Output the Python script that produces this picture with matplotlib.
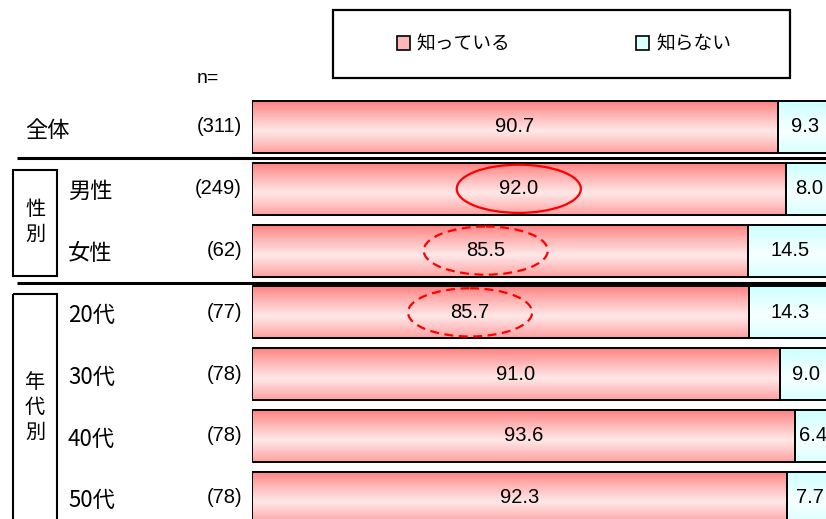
import matplotlib
matplotlib.use('Agg')
import numpy as np
import matplotlib.pyplot as plt
from matplotlib.patches import Rectangle, Ellipse, Patch
from matplotlib.transforms import blended_transform_factory

plt.rcParams['font.family'] = ['Liberation Sans', 'Noto Sans CJK JP']

categories = ['全体', '男性', '女性', '20代', '30代', '40代', '50代']
n_counts = ['(311)', '(249)', '(62)', '(77)', '(78)', '(78)', '(78)']
know = [90.7, 92.0, 85.5, 85.7, 91.0, 93.6, 92.3]
not_know = [9.3, 8.0, 14.5, 14.3, 9.0, 6.4, 7.7]
series = ['知っている', '知らない']
groups = [('性別', 1, 2), ('年代別', 3, 6)]

W, H = 826, 519
fig = plt.figure(figsize=(W / 100, H / 100), dpi=100)
ax = fig.add_axes([252 / W, 0, 1 - 252 / W, 1])
ax.axis('off')
trans = blended_transform_factory(fig.transFigure, ax.transData)


def gradient(dark, light, n=80):
    t = np.linspace(0, 1, n)
    f = np.clip(1 - np.abs(t - 0.58) / 0.58, 0, 1) ** 0.9
    dark = np.array(dark)
    light = np.array(light)
    img = dark[None, :] + (light - dark)[None, :] * f[:, None]
    return img[:, None, :]


pink = gradient((1.0, 0.50, 0.50), (1.0, 0.91, 0.91))
cyan = gradient((0.80, 1.0, 1.0), (0.97, 1.0, 1.0))

bh = 0.84
y = np.arange(len(categories))
for i in y:
    x0 = 0
    for val, img in ((know[i], pink), (not_know[i], cyan)):
        ax.imshow(img, extent=(x0, x0 + val, i + bh / 2, i - bh / 2),
                  aspect='auto', interpolation='bicubic', zorder=1)
        x0 += val
ax.barh(y, know, height=bh, fill=False, edgecolor='black', lw=1.4, zorder=2)
ax.barh(y, not_know, left=know, height=bh, fill=False, edgecolor='black',
        lw=1.4, zorder=2)

# value labels; a couple were shifted left to sit inside the ovals
moved = {2: 40.3, 3: 37.6}
for i in y:
    ax.text(moved.get(i, know[i] / 2), i, f'{know[i]:.1f}', ha='center',
            va='center', fontsize=14.5, zorder=3)
    ax.text(know[i] + not_know[i] / 2, i, f'{not_know[i]:.1f}', ha='center',
            va='center', fontsize=14.5, zorder=3)

# red ovals around the highlighted values
for i, ls in ((1, '-'), (2, (0, (4, 2.5))), (3, (0, (4, 2.5)))):
    cx = moved.get(i, know[i] / 2)
    ax.add_patch(Ellipse((cx, i), 21.4, 0.78, fill=False, edgecolor='#ff0000',
                         lw=1.6, ls=ls, zorder=4))

# row labels and sample sizes
for i in y:
    lx = 25 if i == 0 else 68
    ax.text(lx / W, i + 0.05, categories[i], transform=trans, ha='left',
            va='center', fontsize=16, family=['Noto Sans CJK JP'])
    ax.text(242 / W, i, n_counts[i], transform=trans, ha='right',
            va='center', fontsize=14.5)
ax.text(197 / W, -0.79, 'n=', transform=trans, ha='left', va='center',
        fontsize=14)

# separators between blocks
for sy in (0.5, 2.52):
    ax.plot([17 / W, 1], [sy, sy], transform=trans, color='black', lw=2.2,
            clip_on=False, solid_capstyle='butt')

# group boxes with vertical captions
for name, first, last in groups:
    top = first - 0.30
    bottom = last + 0.41 if last < len(categories) - 1 else last + 1.0
    ax.add_patch(Rectangle((13 / W, top), 44 / W, bottom - top,
                           transform=trans, fill=False, edgecolor='black',
                           lw=1.5, clip_on=False))
    mid = (first + last) / 2 + 0.04
    step = 0.405
    start = mid - step * (len(name) - 1) / 2
    for k, ch in enumerate(name):
        ax.text(35 / W, start + k * step, ch, transform=trans, ha='center',
                va='center', fontsize=14.5, family=['Noto Sans CJK JP'])

# legend
fig.add_artist(Rectangle((333 / W, 1 - 78 / H), 457 / W, 68 / H,
                         transform=fig.transFigure, fill=False,
                         edgecolor='black', lw=1.6))
handles = [Patch(facecolor='#ffb8b8', edgecolor='black', lw=1.2),
           Patch(facecolor='#dcffff', edgecolor='black', lw=1.2)]
fig.legend(handles, series, loc='center', ncol=2, frameon=False,
           bbox_to_anchor=(564 / W, 1 - 44 / H),
           handlelength=0.7, handleheight=0.7, handletextpad=0.35,
           columnspacing=6.7, prop={'family': ['Noto Sans CJK JP'], 'size': 13.5})

ax.set_xlim(0, (W - 252) / 5.8)
ax.set_ylim((H - 127) / 61.8, -127 / 61.8)

fig.savefig('out.png', dpi=100)
